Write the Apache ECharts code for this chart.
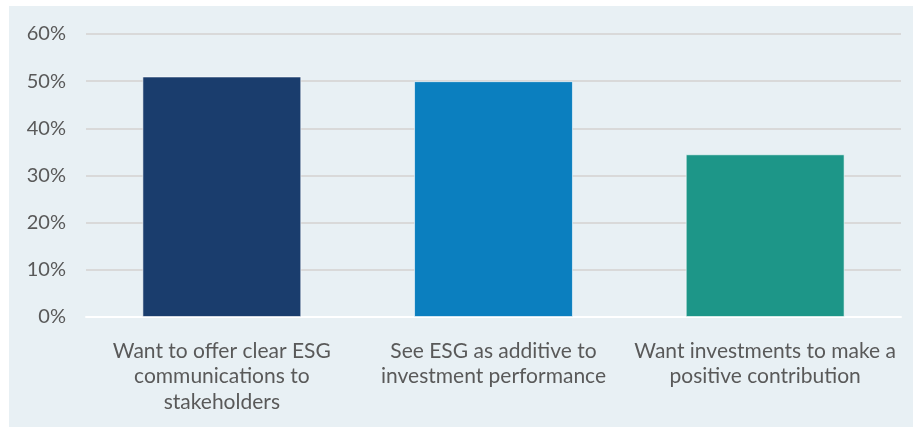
<!DOCTYPE html>
<html><head><meta charset="utf-8">
<script src="https://cdn.jsdelivr.net/npm/echarts@6/dist/echarts.min.js"></script>
<style>html,body{margin:0;padding:0;background:#fff;}#c{width:913px;height:427px;}</style>
</head><body><div id="c"></div>
<script>
const categories = [
  "Want to offer clear ESG\ncommunications to\nstakeholders",
  "See ESG as additive to\ninvestment performance",
  "Want investments to make a\npositive contribution"
];
const values = [51, 50, 34.5];
const barColors = ["#1a3d6d", "#0b7fbf", "#1d9688"];
const yTicks = [0, 10, 20, 30, 40, 50, 60];

const chart = echarts.init(document.getElementById('c'), null, {renderer: 'canvas'});
chart.setOption({
  animation: false,
  backgroundColor: 'transparent',
  graphic: [{type: 'rect', z: -10, silent: true, shape: {x: 9, y: 6, width: 904, height: 421}, style: {fill: '#e8f0f4'}}],
  grid: {left: 86, right: 12, top: 34, bottom: 110, containLabel: false},
  xAxis: {
    type: 'category', data: categories,
    axisLine: {show: true, lineStyle: {color: '#ffffff', width: 2}},
    axisTick: {show: false},
    axisLabel: {color: '#595959', fontFamily: 'Lato', fontSize: 21, lineHeight: 25.5, margin: 21, interval: 0}
  },
  yAxis: {
    type: 'value', min: yTicks[0], max: yTicks[yTicks.length - 1], interval: 10,
    axisLine: {show: false}, axisTick: {show: false},
    axisLabel: {color: '#595959', fontFamily: 'Lato', fontSize: 20, margin: 20, formatter: v => v + '%'},
    splitLine: {lineStyle: {color: '#d9d9d9', width: 2}}
  },
  series: [{
    type: 'bar', barCategoryGap: '41.5%',
    data: values.map((v, i) => ({value: v, itemStyle: {color: barColors[i]}})),
    itemStyle: {borderColor: 'rgba(255,255,255,0.6)', borderWidth: 1}
  }]
});
</script></body></html>
